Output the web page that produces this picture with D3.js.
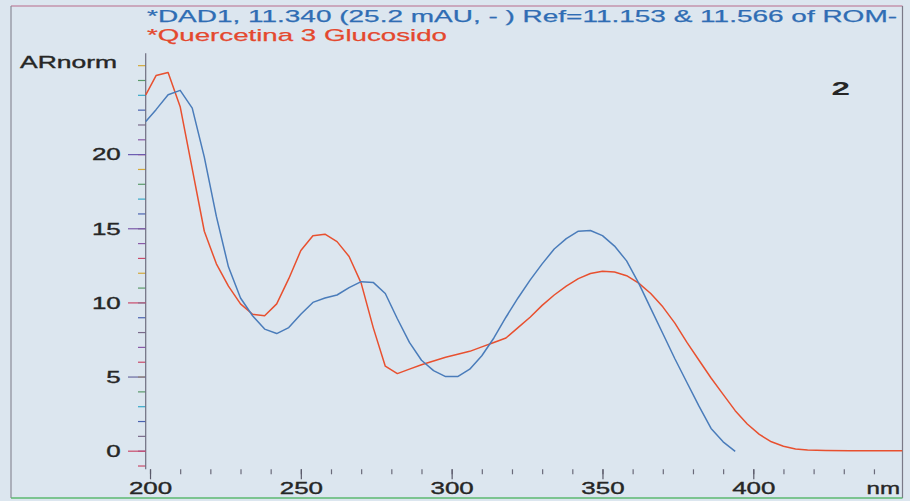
<!DOCTYPE html>
<html>
<head>
<meta charset="utf-8">
<script src="https://cdn.jsdelivr.net/npm/d3@7"></script>
<style>
  html, body { margin: 0; padding: 0; background: #dce6ef; }
  svg { display: block; }
  text { font-family: "Liberation Sans", Arial, sans-serif; }
</style>
</head>
<body>
<svg id="chart" width="910" height="501"></svg>
<script>
// UV spectrum of peak 2 (DAD1) against the library reference spectrum
const titleDad = "*DAD1, 11.340 (25.2 mAU, - ) Ref=11.153 & 11.566 of ROM-";
const titleRef = "*Quercetina 3 Glucosido";
const yAxisTitle = "ARnorm";
const xAxisUnit = "nm";
const peakLabel = "2";

const wavelengthsDad = [198.6, 202, 206, 210, 214, 218, 222, 226, 230, 234, 238, 242, 246, 250,
  254, 258, 262, 266, 270, 274, 278, 282, 286, 290, 294, 298, 302, 306, 310, 314, 318, 322,
  326, 330, 334, 338, 342, 346, 350, 354, 358, 362, 366, 370, 374, 378, 382, 386, 390, 394];
const absDad = [22.2, 23.0, 24.0, 24.3, 23.1, 19.8, 15.8, 12.4, 10.3, 9.1, 8.2, 7.9, 8.3, 9.2,
  10.0, 10.3, 10.5, 11.0, 11.4, 11.35, 10.6, 8.9, 7.3, 6.1, 5.4, 5.0, 5.0, 5.5, 6.4, 7.6, 9.0, 10.3,
  11.5, 12.6, 13.6, 14.3, 14.8, 14.85, 14.5, 13.8, 12.8, 11.3, 9.6, 7.9, 6.2, 4.6, 3.0, 1.5, 0.6, -0.05];

const wavelengthsRef = [198.6, 202, 206, 210, 214, 218, 222, 226, 230, 234, 238, 242, 246, 250,
  254, 258, 262, 266, 270, 274, 278, 282, 286, 290, 294, 298, 302, 306, 310, 314, 318, 322,
  326, 330, 334, 338, 342, 346, 350, 354, 358, 362, 366, 370, 374, 378, 382, 386, 390, 394,
  398, 402, 406, 410, 414, 418, 424, 432, 440, 449.4];
const absRef = [24.0, 25.3, 25.5, 23.2, 19.0, 14.8, 12.6, 11.1, 9.9, 9.2, 9.1, 9.9, 11.6, 13.5,
  14.5, 14.6, 14.1, 13.1, 11.3, 8.3, 5.7, 5.2, 5.5, 5.8, 6.05, 6.3, 6.5, 6.7, 7.0, 7.3, 7.6, 8.3,
  9.0, 9.8, 10.5, 11.1, 11.6, 11.95, 12.1, 12.05, 11.8, 11.3, 10.6, 9.7, 8.6, 7.3, 6.1, 4.9, 3.8, 2.7,
  1.8, 1.1, 0.6, 0.3, 0.12, 0.05, 0.02, 0.0, 0.0, 0.0];

const yMajorTicks = [0, 5, 10, 15, 20];
const yMinorTicks = d3.range(-1, 27);
const xMajorTicks = [200, 250, 300, 350, 400];
const xMinorTicks = d3.range(200, 450, 10);

// tick marks come out in mixed ink colours
const tickColors = ["#c94a6a", "#5a9a6a", "#4a62b0", "#8a5aa8", "#d4a93a", "#38a8c8", "#7a6a8a"];

const svg = d3.select("#chart");
const plot = { left: 145.7, right: 902.3, top: 53.3, bottom: 469.3 };

const x = d3.scaleLinear().domain([198.57, 449.4]).range([plot.left, plot.right]);
const y = d3.scaleLinear().domain([-1.255, 26.8]).range([plot.bottom, plot.top]);

const stretch = 1.62; // wide lettering of the printout
const ink = "#262626";

// outer frame
svg.append("line").attr("x1", 11).attr("x2", 902.5).attr("y1", 6).attr("y2", 6)
  .attr("stroke", "#b86a8c").attr("stroke-width", 1.2);
svg.append("line").attr("x1", 11).attr("x2", 11).attr("y1", 6).attr("y2", 498)
  .attr("stroke", "#8a8a96").attr("stroke-width", 1.2);
svg.append("line").attr("x1", 902.5).attr("x2", 902.5).attr("y1", 6).attr("y2", 498)
  .attr("stroke", "#7a7a88").attr("stroke-width", 1.2);
svg.append("line").attr("x1", 11).attr("x2", 902.5).attr("y1", 498).attr("y2", 498)
  .attr("stroke", "#5cb870").attr("stroke-width", 1.4);

// titles
svg.append("text").attr("x", 147).attr("y", 22).attr("font-size", 17)
  .attr("fill", "#2f6db4").attr("stroke", "#2f6db4").attr("stroke-width", 0.25)
  .attr("textLength", 750).attr("lengthAdjust", "spacingAndGlyphs")
  .text(titleDad);
svg.append("text").attr("x", 147).attr("y", 40.5).attr("font-size", 17)
  .attr("fill", "#e4482e").attr("stroke", "#e4482e").attr("stroke-width", 0.25)
  .attr("textLength", 300).attr("lengthAdjust", "spacingAndGlyphs")
  .text(titleRef);
svg.append("text").attr("x", 20).attr("y", 68.3).attr("font-size", 16)
  .attr("fill", ink).attr("stroke", ink).attr("stroke-width", 0.35)
  .attr("textLength", 97).attr("lengthAdjust", "spacingAndGlyphs")
  .text(yAxisTitle);
svg.append("text").attr("x", 831.5).attr("y", 95).attr("font-size", 18.5).attr("font-weight", "bold")
  .attr("fill", ink).attr("textLength", 18.5).attr("lengthAdjust", "spacingAndGlyphs")
  .text(peakLabel);

// y axis: minor ticks every unit, major ticks with labels every 5
const yMinor = svg.append("g").attr("transform", `translate(${plot.left},0)`)
  .call(d3.axisLeft(y).tickValues(yMinorTicks).tickSize(7.7).tickFormat(""));
yMinor.select(".domain").remove();
yMinor.selectAll(".tick line").attr("stroke", (d, i) => tickColors[(i * 3) % tickColors.length])
  .attr("stroke-width", 1.2);

const yMajor = svg.append("g").attr("transform", `translate(${plot.left},0)`)
  .call(d3.axisLeft(y).tickValues(yMajorTicks).tickSize(17.7).tickFormat(d3.format("d")));
yMajor.select(".domain").attr("stroke", "#6e6e80").attr("stroke-width", 1.2)
  .attr("d", `M0,${plot.top}V${plot.bottom}`);
yMajor.selectAll(".tick line").attr("stroke", (d, i) => ["#c94a6a", "#6a6aa0", "#c94a6a", "#7a5aa8", "#6a5ab0"][i])
  .attr("stroke-width", 1.2);
yMajor.selectAll(".tick text")
  .attr("x", -25 / stretch).attr("dy", "0.36em")
  .attr("transform", `scale(${stretch},1)`)
  .attr("font-size", 16).attr("fill", ink).attr("stroke", ink).attr("stroke-width", 0.35)
  .attr("font-family", "'Liberation Sans', Arial, sans-serif");

// x axis: minor ticks every 10 nm, major every 50 nm
const xMinor = svg.append("g").attr("transform", `translate(0,${plot.bottom})`)
  .call(d3.axisBottom(x).tickValues(xMinorTicks).tickSize(5).tickFormat(""));
xMinor.select(".domain").remove();
xMinor.selectAll(".tick line").attr("stroke", "#6a6a7a").attr("stroke-width", 1.2);

const xMajor = svg.append("g").attr("transform", `translate(0,${plot.bottom})`)
  .call(d3.axisBottom(x).tickValues(xMajorTicks).tickSize(10).tickFormat(d3.format("d")));
const defs = svg.append("defs");
const grad = defs.append("linearGradient").attr("id", "xaxisInk")
  .attr("x1", "0%").attr("x2", "100%").attr("y1", "0%").attr("y2", "0%");
grad.append("stop").attr("offset", "0%").attr("stop-color", "#d0607a");
grad.append("stop").attr("offset", "45%").attr("stop-color", "#8a6aa6");
grad.append("stop").attr("offset", "100%").attr("stop-color", "#5aa86a");
xMajor.select(".domain").attr("stroke", "url(#xaxisInk)").attr("stroke-width", 1.3)
  .attr("d", `M${plot.left},0H${plot.right}`);
xMajor.selectAll(".tick line").attr("stroke", "#5a5a6a").attr("stroke-width", 1.2);
xMajor.selectAll(".tick text")
  .attr("y", 24.7).attr("dy", 0)
  .attr("transform", `scale(${stretch},1)`)
  .attr("font-size", 16).attr("fill", ink).attr("stroke", ink).attr("stroke-width", 0.35)
  .attr("font-family", "'Liberation Sans', Arial, sans-serif");

svg.append("text").attr("x", 866.5).attr("y", 494).attr("font-size", 16)
  .attr("fill", ink).attr("stroke", ink).attr("stroke-width", 0.35)
  .attr("textLength", 33.5).attr("lengthAdjust", "spacingAndGlyphs")
  .text(xAxisUnit);

// spectra
const line = d3.line().x(d => x(d[0])).y(d => y(d[1]));

svg.append("path")
  .datum(d3.zip(wavelengthsRef, absRef))
  .attr("fill", "none").attr("stroke", "#e8502f").attr("stroke-width", 1.5)
  .attr("stroke-linejoin", "round").attr("d", line);

svg.append("path")
  .datum(d3.zip(wavelengthsDad, absDad))
  .attr("fill", "none").attr("stroke", "#4a7cba").attr("stroke-width", 1.5)
  .attr("stroke-linejoin", "round").attr("d", line);
</script>
</body>
</html>
